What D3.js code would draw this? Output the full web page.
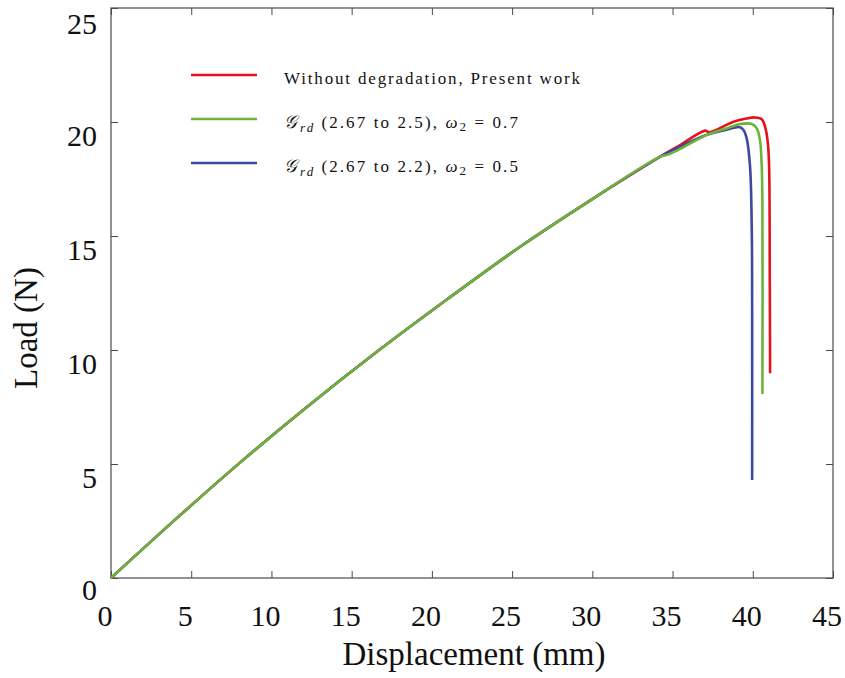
<!DOCTYPE html>
<html><head><meta charset="utf-8">
<script src="https://cdn.jsdelivr.net/npm/d3@7"></script>
<style>
body{margin:0;background:#fff;}
svg{display:block;}
text{font-family:"Liberation Serif","Times New Roman",serif;fill:#111;}
</style></head>
<body><svg id="chart" width="845" height="678"></svg>
<script>
// ---- data ----
const xTicks = [0,5,10,15,20,25,30,35,40,45];
const yTicks = [0,5,10,15,20,25];
const seriesNames = ["Without degradation, Present work","Grd (2.67 to 2.5), w2 = 0.7","Grd (2.67 to 2.2), w2 = 0.5"];
const seriesColors = ["#e4121b","#6cb33a","#3b4a9e"];

const dispRed = [0,4,8.04,12,16.77,21,25.5,30,34.23,35.5,37.03,37.3,38.8,39.6,40.15,40.56,40.8,40.95,41.02,41.06,41.08];
const loadRed = [0,2.56,5.06,7.38,10.03,12.25,14.53,16.62,18.48,19.0,19.62,19.55,20.01,20.15,20.2,20.12,19.7,19.0,18.0,13.0,8.98];

const dispGreen = [0,4,8.04,12,16.77,21,25.5,30,34.23,34.64,35.2,37.13,38.5,39.21,39.94,40.25,40.45,40.55,40.6,40.6];
const loadGreen = [0,2.56,5.06,7.38,10.03,12.25,14.53,16.62,18.48,18.55,18.72,19.43,19.75,19.91,19.91,19.72,19.2,18.2,16.5,8.07];

const dispBlue = [0,4,8.04,12,16.77,21,25.5,30,34.23,35.5,36.93,38.3,39.0,39.2,39.42,39.62,39.83,39.94,39.96,39.96];
const loadBlue = [0,2.56,5.06,7.38,10.03,12.25,14.53,16.62,18.48,18.92,19.39,19.65,19.77,19.77,19.65,19.28,18.04,15.12,12.0,4.3];

// ---- layout ----
const svg = d3.select("#chart");
const L=111,R=833,T=8,B=578;
const x = d3.scaleLinear().domain([0,45]).range([L,R]);
const y = d3.scaleLinear().domain([0,25]).range([B,T]);

const tickLen = 7;
const frameCol="#4a4a4a";

// axes (ticks inward)
const gB = svg.append("g").attr("transform",`translate(0,${B})`)
  .call(d3.axisTop(x).tickValues(xTicks).tickSize(tickLen).tickFormat(""));
const gT = svg.append("g").attr("transform",`translate(0,${T})`)
  .call(d3.axisBottom(x).tickValues(xTicks).tickSize(tickLen).tickFormat(""));
const gL = svg.append("g").attr("transform",`translate(${L},0)`)
  .call(d3.axisRight(y).tickValues(yTicks).tickSize(tickLen).tickFormat(""));
const gR = svg.append("g").attr("transform",`translate(${R},0)`)
  .call(d3.axisLeft(y).tickValues(yTicks).tickSize(tickLen).tickFormat(""));
[gB,gT,gL,gR].forEach(g=>{g.select(".domain").remove();g.selectAll("line").attr("stroke",frameCol).attr("stroke-width",1);});
svg.append("rect").attr("x",L).attr("y",T).attr("width",R-L).attr("height",B-T)
  .attr("fill","none").attr("stroke",frameCol).attr("stroke-width",1.2);

// tick labels
svg.append("g").selectAll("text").data(xTicks).join("text")
  .attr("x",d=>x(d)-6).attr("y",626).attr("text-anchor","middle")
  .attr("font-size",30).text(d=>d);
svg.append("g").selectAll("text").data(yTicks).join("text")
  .attr("x",97).attr("y",d=>y(d)+(d===25?26:d===0?22:24)).attr("text-anchor","end")
  .attr("font-size",30).text(d=>d);

// axis titles
svg.append("text").attr("x",474).attr("y",665).attr("text-anchor","middle")
  .attr("font-size",33).text("Displacement (mm)");
svg.append("text").attr("transform","translate(37,328) rotate(-90)").attr("text-anchor","middle")
  .attr("font-size",33).text("Load (N)");

// curves
const line = d3.line().x(d=>x(d[0])).y(d=>y(d[1])).curve(d3.curveCatmullRom.alpha(0.5));
const dataRed = dispRed.map((d,i)=>[d,loadRed[i]]);
const dataGreen = dispGreen.map((d,i)=>[d,loadGreen[i]]);
const dataBlue = dispBlue.map((d,i)=>[d,loadBlue[i]]);
const plotG = svg.append("g");
[[dataRed,0],[dataBlue,2],[dataGreen,1]].forEach(([dat,k])=>{
  plotG.append("path").datum(dat).attr("d",line).attr("fill","none")
    .attr("stroke",seriesColors[k]).attr("stroke-width",2.6)
    .attr("stroke-linejoin","round").attr("stroke-linecap","butt");
});

// legend
const legY=[75,119,163];
const leg = svg.append("g");
legY.forEach((ly,i)=>{
  leg.append("line").attr("x1",191).attr("x2",257).attr("y1",ly).attr("y2",ly)
    .attr("stroke",seriesColors[i]).attr("stroke-width",2.4);
});
function fit(t,target){
  const n = t.text().length;
  const w = t.node().getComputedTextLength();
  const ls = Math.max(0,(target-w)/Math.max(1,n-1));
  t.attr("letter-spacing",ls);
}
const t1 = leg.append("text").attr("x",284).attr("y",legY[0]+9).attr("font-size",17).text(seriesNames[0]);
fit(t1,296);
function mathLabel(ly,a,b,w){
  const t = leg.append("text").attr("x",284).attr("y",ly+9).attr("font-size",17);
  t.append("tspan").attr("font-family","'DejaVu Serif',serif").attr("font-style","italic").attr("font-size",18).text("\u{1D4A2}");
  t.append("tspan").attr("font-style","italic").attr("font-size",13).attr("dy",4).attr("dx",1).text("rd");
  t.append("tspan").attr("dy",-4).attr("dx",6).text(`(${a} to ${b}), `);
  t.append("tspan").attr("font-style","italic").text("\u03C9");
  t.append("tspan").attr("font-size",13).attr("dy",3).text("2");
  t.append("tspan").attr("dy",-3).text(` = ${w}`);
  fit(t,229);
}
mathLabel(legY[1],"2.67","2.5","0.7");
mathLabel(legY[2],"2.67","2.2","0.5");
</script></body></html>
